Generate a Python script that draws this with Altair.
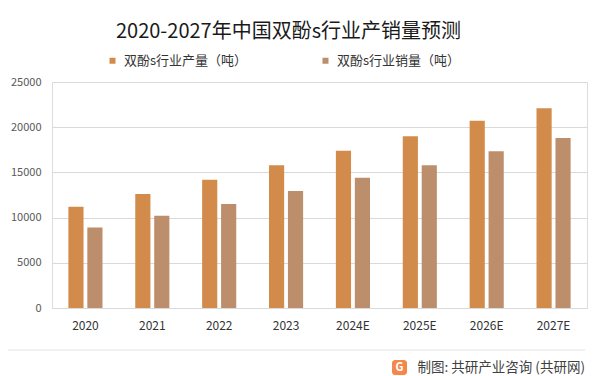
import altair as alt
import pandas as pd

years = ["2020", "2021", "2022", "2023", "2024E", "2025E", "2026E", "2027E"]
production = [11200, 12600, 14200, 15800, 17400, 19000, 20700, 22100]
sales = [8900, 10200, 11500, 12950, 14400, 15800, 17350, 18800]
series = ["双酚s行业产量（吨）", "双酚s行业销量（吨）"]
colors = ["#D38B4C", "#BC8E6B"]
y_ticks = [0, 5000, 10000, 15000, 20000, 25000]
title_text = "2020-2027年中国双酚s行业产销量预测"
footer_text = "制图: 共研产业咨询 (共研网)"

rows = []
for i, yr in enumerate(years):
    rows.append({"year": yr, "series": series[0], "value": production[i]})
    rows.append({"year": yr, "series": series[1], "value": sales[i]})
df = pd.DataFrame(rows)

FONT = "Noto Sans CJK SC"
W, H = 535, 226

bars = alt.Chart(df).mark_bar().encode(
    x=alt.X("year:N", sort=years, title=None,
            scale=alt.Scale(paddingInner=0.49, paddingOuter=0.245),
            axis=alt.Axis(labelAngle=0, labelFontSize=12, labelColor="#333333",
                          ticks=False, domainColor="#D9D9D9", labelPadding=12,
                          labelFont=FONT)),
    xOffset=alt.XOffset("series:N", sort=series,
                        scale=alt.Scale(paddingInner=0.2, paddingOuter=0)),
    y=alt.Y("value:Q", title=None, scale=alt.Scale(domain=[0, 25000]),
            axis=alt.Axis(values=y_ticks, format="d", domain=False, ticks=False,
                          gridColor="#D9D9D9", labelFontSize=11,
                          labelColor="#595959", labelPadding=11, labelFont=FONT)),
    color=alt.Color("series:N", sort=series,
                    scale=alt.Scale(domain=series, range=colors),
                    legend=alt.Legend(title=None, orient="none", legendX=54, legendY=-28,
                                      direction="horizontal", columns=2,
                                      columnPadding=71, symbolType="square",
                                      symbolSize=36, symbolStrokeWidth=0,
                                      labelFontSize=13, labelColor="#333333",
                                      labelFont=FONT, labelOffset=5, labelLimit=300)),
)

rule = alt.Chart(pd.DataFrame({"a": [0]})).mark_rule(color="#E3E3E3", strokeWidth=1).encode(
    x=alt.value(-44), x2=alt.value(533), y=alt.value(268)
)

footer = alt.Chart(pd.DataFrame({"t": [footer_text]})).mark_text(
    align="right", baseline="middle", font=FONT, fontSize=13.5, color="#404040"
).encode(x=alt.value(533), y=alt.value(286), text="t:N")

logo = alt.Chart(pd.DataFrame({"a": [0]})).mark_rect(
    color="#F2884B", cornerRadius=3
).encode(x=alt.value(340), x2=alt.value(355), y=alt.value(278), y2=alt.value(293))

logo_g = alt.Chart(pd.DataFrame({"t": ["G"]})).mark_text(
    align="center", baseline="middle", font=FONT, fontSize=11, fontWeight="bold", color="white"
).encode(x=alt.value(347.5), y=alt.value(285.5), text="t:N")

chart = alt.layer(bars, rule, logo, logo_g, footer).properties(
    width=W, height=H,
    title=alt.TitleParams(title_text, anchor="middle", dx=-31, offset=12,
                          fontSize=20, font=FONT, fontWeight="normal", color="#1A1A1A"),
    autosize=alt.AutoSizeParams(type="none"),
    padding={"left": 52, "top": 82, "right": 13, "bottom": 68},
).configure_view(stroke=None).configure(background="white")

chart.save("out.html", embed_options={"renderer": "svg", "actions": False})
